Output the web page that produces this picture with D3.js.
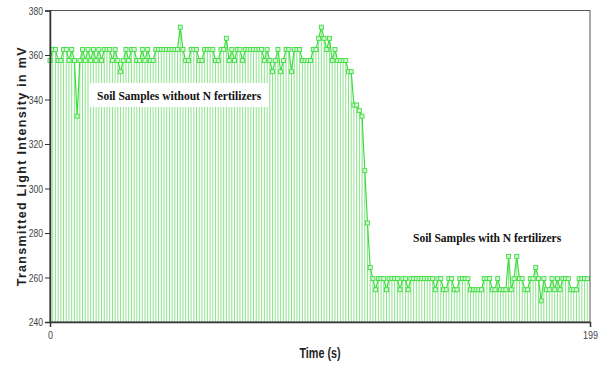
<!DOCTYPE html>
<html>
<head>
<meta charset="utf-8">
<script src="https://cdn.jsdelivr.net/npm/d3@7"></script>
<style>
  html, body { margin: 0; padding: 0; background: #fff; }
  svg { display: block; }
</style>
</head>
<body>
<div id="chart"></div>
<script>
// Transmitted light intensity (mV), one reading per second, t = 0..199
const highPhase = [
  357.5, 362.5, 362.5, 357.5, 357.5, 362.5, 362.5, 357.5, 362.5, 357.5,
  332.5, 357.5, 362.5, 357.5, 362.5, 357.5, 362.5, 357.5, 362.5, 357.5,
  362.5, 362.5, 362.5, 357.5, 362.5, 357.5, 352.5, 357.5, 362.5, 357.5,
  362.5, 362.5, 357.5, 357.5, 362.5, 357.5, 362.5, 357.5, 357.5, 362.5,
  362.5, 362.5, 362.5, 362.5, 362.5, 362.5, 362.5, 362.5, 372.5, 362.5,
  357.5, 357.5, 362.5, 362.5, 362.5, 357.5, 357.5, 362.5, 362.5, 362.5,
  362.5, 357.5, 357.5, 362.5, 362.5, 367.5, 357.5, 362.5, 357.5, 362.5,
  362.5, 357.5, 362.5, 362.5, 362.5, 362.5, 362.5, 362.5, 362.5, 357.5,
  362.5, 357.5, 352.5, 357.5, 362.5, 352.5, 357.5, 362.5, 362.5, 352.5,
  362.5, 362.5, 362.5, 357.5, 357.5, 357.5, 357.5, 362.5, 362.5, 367.5,
  372.5, 367.5, 362.5, 367.5, 357.5, 362.5, 357.5, 357.5, 357.5, 357.5,
  352.5, 352.5, 337.5, 337.5, 335.0, 332.5
];
const dropPhase = [308.0, 284.5, 264.5];
const lowPhase = [
  259.5, 254.5, 259.5, 259.5, 259.5, 254.5, 259.5, 259.5, 259.5, 259.5,
  254.5, 259.5, 259.5, 254.5, 259.5, 259.5, 259.5, 259.5, 259.5, 259.5,
  259.5, 259.5, 259.5, 254.5, 259.5, 259.5, 254.5, 254.5, 259.5, 259.5,
  254.5, 254.5, 259.5, 259.5, 259.5, 259.5, 254.5, 254.5, 254.5, 254.5,
  254.5, 259.5, 259.5, 259.5, 254.5, 254.5, 259.5, 254.5, 254.5, 254.5,
  269.5, 254.5, 259.5, 269.5, 259.5, 259.5, 254.5, 254.5, 259.5, 259.5,
  264.5, 259.5, 249.5, 259.5, 254.5, 254.5, 259.5, 254.5, 259.5, 254.5,
  259.5, 259.5, 259.5, 254.5, 254.5, 254.5, 259.5, 259.5, 259.5, 259.5
];
const values = highPhase.concat(dropPhase, lowPhase);

const xTicks = [0, 199];
const yTicks = [240, 260, 280, 300, 320, 340, 360, 380];
const labelHigh = 'Soil Samples without N fertilizers';
const labelLow = 'Soil Samples with N fertilizers';

const W = 603, H = 372;
const m = { left: 50, right: 13, top: 10.5, bottom: 50 };
const squeeze = 0.78; // tick labels in the original are a narrow face

const svg = d3.select('#chart').append('svg')
  .attr('width', W).attr('height', H);

const x = d3.scaleLinear()
  .domain([0, 199])
  .range([m.left, W - m.right]);

const y = d3.scaleLinear()
  .domain([240, 380])
  .range([H - m.bottom, m.top]);

const green = '#3fdc3f';

// drop lines from every reading to the baseline
svg.append('g')
  .selectAll('line')
  .data(values)
  .join('line')
  .attr('x1', (d, i) => x(i)).attr('x2', (d, i) => x(i))
  .attr('y1', d => y(d)).attr('y2', y(240))
  .attr('stroke', '#80e280')
  .attr('stroke-width', 1)
  .attr('opacity', 0.9);

// trace
svg.append('path')
  .datum(values)
  .attr('d', d3.line().x((d, i) => x(i)).y(d => y(d)))
  .attr('fill', 'none')
  .attr('stroke', green)
  .attr('stroke-width', 1.2);

// square markers
svg.append('g')
  .selectAll('rect')
  .data(values)
  .join('rect')
  .attr('x', (d, i) => x(i) - 2).attr('y', d => y(d) - 2)
  .attr('width', 4).attr('height', 4)
  .attr('fill', '#d6f7d6')
  .attr('stroke', green)
  .attr('stroke-width', 0.9);

// frame
svg.append('rect')
  .attr('x', x(0)).attr('y', y(380))
  .attr('width', x(199) - x(0)).attr('height', y(240) - y(380))
  .attr('fill', 'none')
  .attr('stroke', '#555')
  .attr('stroke-width', 1);

const tickFont = '"Liberation Sans", Arial, sans-serif';

const yAxis = svg.append('g')
  .attr('transform', `translate(${x(0)},0)`)
  .call(d3.axisLeft(y).tickValues(yTicks).tickSize(5).tickPadding(2));
yAxis.select('.domain').attr('stroke', '#333').attr('stroke-width', 1.5);
yAxis.selectAll('.tick line').attr('stroke', '#333');
yAxis.selectAll('text')
  .attr('font-family', tickFont).attr('font-size', '11px')
  .attr('x', -7 / squeeze)
  .attr('transform', `scale(${squeeze},1)`)
  .attr('fill', '#444');

const xAxis = svg.append('g')
  .attr('transform', `translate(0,${y(240)})`)
  .call(d3.axisBottom(x).tickValues(xTicks).tickSize(5).tickPadding(4));
xAxis.select('.domain').attr('stroke', '#333').attr('stroke-width', 1.5);
xAxis.selectAll('.tick line').attr('stroke', '#333');
xAxis.selectAll('text')
  .attr('font-family', tickFont).attr('font-size', '11.5px')
  .attr('transform', `scale(${squeeze},1)`)
  .attr('fill', '#444');

// axis titles
svg.append('text')
  .attr('transform', `translate(26,${(y(240) + y(380)) / 2}) rotate(-90)`)
  .attr('text-anchor', 'middle')
  .attr('font-family', '"Liberation Sans", Arial, sans-serif')
  .attr('font-size', '12.5px')
  .attr('font-weight', '700')
  .attr('letter-spacing', '1.3px')
  .attr('fill', '#222')
  .text('Transmitted Light Intensity in mV');

svg.append('text')
  .attr('transform', `translate(${(x(0) + x(199)) / 2},358) scale(0.72,1)`)
  .attr('text-anchor', 'middle')
  .attr('font-family', tickFont)
  .attr('font-size', '15px')
  .attr('font-weight', '700')
  .attr('fill', '#222')
  .text('Time (s)');

// annotations
svg.append('rect')
  .attr('x', 90).attr('y', 83).attr('width', 178).attr('height', 24)
  .attr('fill', '#fff');

svg.append('text')
  .attr('x', 97).attr('y', 100)
  .attr('font-family', '"Liberation Serif", "Times New Roman", serif')
  .attr('font-size', '11.5px')
  .attr('font-weight', '700')
  .attr('fill', '#111')
  .text(labelHigh);

svg.append('text')
  .attr('x', 413).attr('y', 242)
  .attr('font-family', '"Liberation Serif", "Times New Roman", serif')
  .attr('font-size', '11.5px')
  .attr('font-weight', '700')
  .attr('fill', '#111')
  .text(labelLow);
</script>
</body>
</html>
